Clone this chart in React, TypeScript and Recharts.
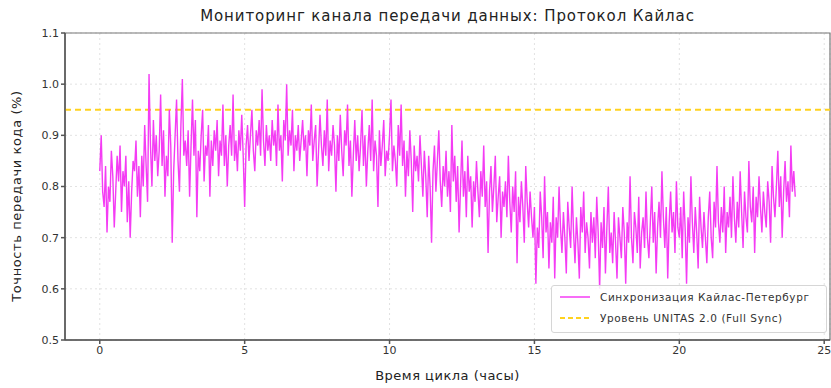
import { LineChart, Line, XAxis, YAxis, CartesianGrid, ReferenceLine, ReferenceArea } from "recharts";

// Точность передачи кода, замер каждые 0.05 ч (0 … 24 ч), по 20 значений на час
const ACCURACY = [
  0.83, 0.9, 0.79, 0.76, 0.84, 0.71, 0.8, 0.77, 0.87, 0.82, 0.72, 0.79, 0.86, 0.81, 0.88, 0.75, 0.83, 0.8, 0.86, 0.73,
  0.81, 0.7, 0.79, 0.85, 0.83, 0.89, 0.78, 0.84, 0.74, 0.86, 0.8, 0.92, 0.84, 0.77, 1.02, 0.88, 0.8, 0.93, 0.85, 0.9,
  0.82, 0.87, 0.98, 0.84, 0.91, 0.78, 0.86, 0.82, 0.95, 0.88, 0.69, 0.83, 0.9, 0.97, 0.85, 0.79, 0.92, 1.01, 0.86, 0.89,
  0.84, 0.91, 0.78, 0.88, 0.97, 0.86, 0.93, 0.74, 0.87, 0.83, 0.9, 0.95, 0.81, 0.88, 0.86, 0.92, 0.78, 0.89, 0.84, 0.91,
  0.87, 0.93, 0.82, 0.89, 0.86, 0.96, 0.84, 0.9, 0.8, 0.88, 0.92, 0.86, 0.98, 0.85, 0.89, 0.83, 0.91, 0.87, 0.94, 0.86,
  0.76, 0.88, 0.92, 0.85, 0.9, 0.95, 0.87, 0.83, 0.91, 0.88, 0.93, 0.86, 0.99, 0.89, 0.84, 0.92, 0.87, 0.9, 0.85, 0.93,
  0.88, 0.91, 0.84, 0.96, 0.87, 0.9, 0.81, 0.93, 0.89, 1.0, 0.86, 0.91, 0.88, 0.95, 0.83, 0.9, 0.87, 0.92, 0.85, 0.89,
  0.93, 0.87, 0.9, 0.82, 0.91, 0.88, 0.96, 0.85, 0.89, 0.92, 0.8, 0.87, 0.94, 0.88, 0.84, 0.91, 0.86, 0.97, 0.83, 0.89,
  0.86, 0.92, 0.88, 0.79, 0.9, 0.85, 0.94, 0.87, 0.82, 0.91, 0.88, 0.96, 0.84, 0.89, 0.78, 0.86, 0.93, 0.85, 0.9, 0.83,
  0.88, 0.95, 0.84, 0.9, 0.8, 0.87, 0.92, 0.85, 0.97, 0.83, 0.89, 0.86, 0.76, 0.91, 0.84, 0.88, 0.93, 0.82, 0.87, 0.85,
  0.9, 0.97, 0.83, 0.88, 0.85, 0.8, 0.92, 0.86, 0.96, 0.84, 0.89, 0.78, 0.87, 0.82, 0.91, 0.85, 0.75, 0.88, 0.83, 0.86,
  0.81, 0.9, 0.84, 0.78, 0.87, 0.82, 0.74, 0.86, 0.8, 0.69, 0.83, 0.88, 0.79, 0.85, 0.91, 0.81, 0.76, 0.84, 0.8, 0.87,
  0.78, 0.83, 0.75, 0.92, 0.81, 0.86, 0.77, 0.84, 0.71, 0.8, 0.89, 0.78, 0.83, 0.74, 0.86, 0.79, 0.82, 0.72, 0.81, 0.77,
  0.85, 0.79, 0.74, 0.83, 0.78, 0.88, 0.76, 0.81, 0.67, 0.79, 0.84, 0.75, 0.8, 0.86, 0.73, 0.78, 0.82, 0.7, 0.79, 0.76,
  0.81, 0.74, 0.86, 0.77, 0.71, 0.8, 0.75, 0.83, 0.65, 0.78, 0.73, 0.81, 0.76, 0.69, 0.84, 0.77, 0.72, 0.79, 0.74, 0.7,
  0.76, 0.61, 0.72, 0.68, 0.79, 0.74, 0.66, 0.82, 0.71, 0.75, 0.64, 0.73, 0.69, 0.78, 0.62, 0.74, 0.7, 0.8, 0.72, 0.67,
  0.75, 0.7, 0.63, 0.77, 0.72, 0.68, 0.8, 0.71, 0.65, 0.74, 0.69, 0.62, 0.76, 0.71, 0.79, 0.67, 0.73, 0.7, 0.64, 0.75,
  0.69, 0.74, 0.66, 0.78, 0.71, 0.6, 0.73, 0.68, 0.76, 0.63, 0.72, 0.8, 0.67, 0.71, 0.65, 0.75, 0.69, 0.62, 0.74, 0.7,
  0.66, 0.76, 0.71, 0.61, 0.73, 0.69, 0.82, 0.7, 0.65, 0.75, 0.72, 0.67, 0.78, 0.64, 0.71, 0.74, 0.68, 0.79, 0.7, 0.66,
  0.73, 0.8, 0.69, 0.75, 0.63, 0.72, 0.77, 0.7, 0.83, 0.74, 0.68, 0.76, 0.62, 0.73, 0.79, 0.71, 0.75, 0.67, 0.81, 0.72,
  0.7, 0.76, 0.66, 0.79, 0.72, 0.61, 0.74, 0.69, 0.82, 0.73, 0.67, 0.76, 0.71, 0.64, 0.78, 0.72, 0.68, 0.75, 0.7, 0.65,
  0.74, 0.79, 0.7, 0.66, 0.77, 0.72, 0.84, 0.73, 0.69, 0.76, 0.71, 0.8, 0.67, 0.75, 0.72, 0.78, 0.7, 0.82, 0.74, 0.69,
  0.77, 0.72, 0.83, 0.75, 0.68, 0.79, 0.74, 0.71, 0.85, 0.76, 0.73, 0.8, 0.67, 0.78, 0.74, 0.82, 0.76, 0.71, 0.79, 0.75,
  0.72, 0.81, 0.77, 0.69, 0.84, 0.78, 0.74, 0.8, 0.87, 0.76, 0.82, 0.7, 0.79, 0.85, 0.77, 0.81, 0.74, 0.88, 0.79, 0.83,
  0.78,
];

const SYNC_LEVEL = 0.95;
const X_TICKS = [0, 5, 10, 15, 20, 25];
const Y_TICKS = [0.5, 0.6, 0.7, 0.8, 0.9, 1.0, 1.1];

const SERIES_NAME = "Синхронизация Кайлас-Петербург";
const LEVEL_NAME = "Уровень UNITAS 2.0 (Full Sync)";

const LINE_COLOR = "#f43cf4";
const LEVEL_COLOR = "#ffd21f";
const FONT = "'DejaVu Sans', sans-serif";

const data = ACCURACY.map((v, i) => ({ t: i / 20, value: v }));

export default function App() {
  return (
    <div style={{ position: "absolute", left: 0, top: 0, width: 831, height: 388, fontFamily: FONT, background: "#fff" }}>
      <LineChart width={831} height={388} data={data} margin={{ top: 33, right: 1, bottom: 8, left: 25 }}>
        <CartesianGrid stroke="#e2e2e2" strokeDasharray="2 3" />
        <XAxis
          dataKey="t"
          type="number"
          domain={[-1.2, 25.2]}
          ticks={X_TICKS}
          height={40}
          stroke="#555"
          strokeWidth={1.5}
          tick={{ fill: "#333", fontSize: 11, fontFamily: FONT }}
          tickSize={4}
          allowDataOverflow
        />
        <YAxis
          type="number"
          domain={[0.5, 1.1]}
          ticks={Y_TICKS}
          width={40}
          stroke="#555"
          strokeWidth={1.5}
          tick={{ fill: "#333", fontSize: 11, fontFamily: FONT }}
          tickSize={4}
          tickFormatter={(v: number) => v.toFixed(1)}
          allowDataOverflow
        />
        <ReferenceArea x1={-1.2} x2={25.2} y1={0.5} y2={1.1} fill="none" stroke="#777" strokeWidth={1.2} />
        <ReferenceLine y={SYNC_LEVEL} stroke={LEVEL_COLOR} strokeWidth={2} strokeDasharray="6 4" />
        <Line
          type="linear"
          dataKey="value"
          name={SERIES_NAME}
          stroke={LINE_COLOR}
          strokeWidth={1.4}
          dot={false}
          isAnimationActive={false}
        />
      </LineChart>

      <div
        style={{
          position: "absolute",
          left: 65,
          width: 765,
          top: 7,
          textAlign: "center",
          fontSize: 15,
          letterSpacing: 0.9,
          color: "#222",
        }}
      >
        Мониторинг канала передачи данных: Протокол Кайлас
      </div>
      <div
        style={{
          position: "absolute",
          left: 65,
          width: 765,
          top: 368,
          textAlign: "center",
          fontSize: 13,
          letterSpacing: 0.5,
          color: "#222",
        }}
      >
        Время цикла (часы)
      </div>
      <div
        style={{
          position: "absolute",
          left: 16,
          top: 196,
          transform: "translate(-50%, -50%) rotate(-90deg)",
          whiteSpace: "nowrap",
          fontSize: 13,
          letterSpacing: 0.6,
          color: "#222",
        }}
      >
        Точность передачи кода (%)
      </div>

      <div
        style={{
          position: "absolute",
          left: 551,
          top: 285,
          width: 274,
          height: 46,
          border: "1px solid #d6d6d6",
          borderRadius: 3,
          background: "rgba(255,255,255,0.85)",
          fontSize: 10.5,
          letterSpacing: 0.6,
          color: "#333",
        }}
      >
        <div style={{ position: "absolute", left: 8, top: 5, display: "flex", alignItems: "center" }}>
          <svg width={30} height={10}>
            <line x1={0} y1={5} x2={30} y2={5} stroke={LINE_COLOR} strokeWidth={1.5} />
          </svg>
          <span style={{ marginLeft: 10, whiteSpace: "nowrap" }}>{SERIES_NAME}</span>
        </div>
        <div style={{ position: "absolute", left: 8, top: 26, display: "flex", alignItems: "center" }}>
          <svg width={30} height={10}>
            <line x1={0} y1={5} x2={30} y2={5} stroke={LEVEL_COLOR} strokeWidth={2} strokeDasharray="5 3" />
          </svg>
          <span style={{ marginLeft: 10, whiteSpace: "nowrap" }}>{LEVEL_NAME}</span>
        </div>
      </div>
    </div>
  );
}
